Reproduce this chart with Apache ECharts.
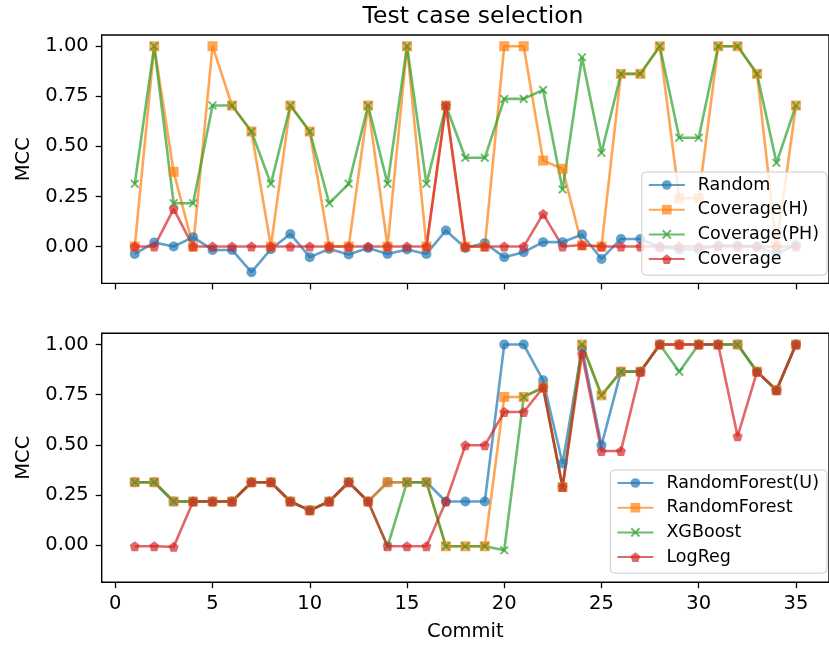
<!DOCTYPE html>
<html>
<head>
<meta charset="utf-8">
<script src="https://cdn.jsdelivr.net/npm/echarts@6/dist/echarts.min.js"></script>
<style>
  html, body { margin: 0; padding: 0; background: #fff; }
  #chart { width: 829px; height: 648px; }
</style>
</head>
<body>
<div id="chart"></div>
<script>
// commits on the x axis
var commits = [1, 2, 3, 4, 5, 6, 7, 8, 9, 10, 11, 12, 13, 14, 15, 16, 17, 18, 19, 20,
  21, 22, 23, 24, 25, 26, 27, 28, 29, 30, 31, 32, 33, 34, 35];
var xTicks = [0, 5, 10, 15, 20, 25, 30, 35];
var yTicks = [0, 0.25, 0.5, 0.75, 1.0];

// top: test case selection
var random = [-0.037, 0.02, 0.0, 0.047, -0.017, -0.017, -0.128, -0.013, 0.063, -0.053,
  -0.012, -0.04, -0.007, -0.037, -0.015, -0.037, 0.08, -0.007, 0.017, -0.053,
  -0.028, 0.022, 0.022, 0.06, -0.062, 0.038, 0.038, -0.003, -0.015, -0.015,
  0.005, 0.005, 0.0, -0.037, 0.008];
var coverageH = [0, 1, 0.373, 0, 1, 0.704, 0.574, 0, 0.704, 0.574,
  0, 0, 0.704, 0, 1, 0, 0.704, 0, 0, 1,
  1, 0.429, 0.388, 0.005, 0, 0.862, 0.862, 1, 0.241, 0.241,
  1, 1, 0.862, 0, 0.704];
var coveragePH = [0.313, 1, 0.216, 0.216, 0.704, 0.704, 0.574, 0.313, 0.704, 0.574,
  0.216, 0.313, 0.704, 0.313, 1, 0.313, 0.704, 0.443, 0.443, 0.737,
  0.737, 0.782, 0.285, 0.945, 0.468, 0.862, 0.862, 1, 0.543, 0.543,
  1, 1, 0.862, 0.418, 0.704];
var coverage = [0, 0, 0.188, 0, 0, 0, 0, 0, 0, 0,
  0, 0, 0, 0, 0, 0, 0.704, 0, 0, 0,
  0, 0.163, 0, 0.008, 0, 0, 0, 0, 0, 0,
  0, 0, 0, 0, 0];

// bottom: classifiers
var rfU = [0.314, 0.314, 0.218, 0.218, 0.218, 0.218, 0.314, 0.314, 0.218, 0.174,
  0.218, 0.314, 0.218, 0.314, 0.314, 0.314, 0.218, 0.218, 0.218, 1.0,
  1.0, 0.822, 0.407, 0.98, 0.498, 0.865, 0.865, 1, 1, 1,
  1, 1, 0.865, 0.772, 1];
var rf = [0.314, 0.314, 0.218, 0.218, 0.218, 0.218, 0.314, 0.314, 0.218, 0.174,
  0.218, 0.314, 0.218, 0.314, 0.314, 0.314, -0.005, -0.005, -0.005, 0.739,
  0.739, 0.786, 0.29, 1, 0.747, 0.865, 0.865, 1, 1, 1,
  1, 1, 0.865, 0.772, 1];
var xgb = [0.314, 0.314, 0.218, 0.218, 0.218, 0.218, 0.314, 0.314, 0.218, 0.174,
  0.218, 0.314, 0.218, -0.005, 0.314, 0.314, -0.005, -0.005, -0.005, -0.025,
  0.739, 0.786, 0.29, 1, 0.747, 0.865, 0.865, 1, 0.865, 1,
  1, 1, 0.865, 0.772, 1];
var logreg = [-0.005, -0.005, -0.008, 0.218, 0.218, 0.218, 0.314, 0.314, 0.218, 0.174,
  0.218, 0.314, 0.218, -0.005, -0.005, -0.005, 0.218, 0.498, 0.498, 0.664,
  0.664, 0.786, 0.29, 0.952, 0.47, 0.47, 0.865, 1, 1, 1,
  1, 0.543, 0.865, 0.772, 1];

var FONT = 'DejaVu Sans';
var xSym = 'path://M0,1.5 L1.5,0 L5,3.5 L8.5,0 L10,1.5 L6.5,5 L10,8.5 L8.5,10 L5,6.5 L1.5,10 L0,8.5 L3.5,5 Z';
var pentSym = 'path://M5,0 L10,3.8 L8.1,10 L1.9,10 L0,3.8 Z';

function pairs(ys) {
  return commits.map(function (c, i) { return [c, ys[i]]; });
}

function line(name, ys, color, symbol, size, idx) {
  return {
    name: name,
    type: 'line',
    xAxisIndex: idx,
    yAxisIndex: idx,
    data: pairs(ys),
    symbol: symbol,
    symbolSize: size,
    showSymbol: true,
    showAllSymbol: true,
    lineStyle: { color: color, width: 2.6, opacity: 0.7 },
    itemStyle: { color: color, opacity: 0.7 },
    emphasis: { disabled: true }
  };
}

function xAx(idx, labels) {
  return {
    type: 'value', gridIndex: idx, min: -0.7, max: 36.7,
    name: labels ? 'Commit' : '',
    nameLocation: 'middle', nameGap: 40,
    nameTextStyle: { fontFamily: FONT, fontSize: 19.5, color: '#000' },
    axisLine: { show: false, onZero: false },
    splitLine: { show: false },
    axisTick: { show: true, length: 6, customValues: xTicks, lineStyle: { color: '#000', width: 1.3 } },
    axisLabel: { show: labels, customValues: xTicks, margin: 12, fontFamily: FONT, fontSize: 19.5, color: '#000' }
  };
}

function yAx(idx) {
  return {
    type: 'value', gridIndex: idx, min: -0.184, max: 1.056,
    name: 'MCC', nameLocation: 'middle', nameGap: 68,
    nameTextStyle: { fontFamily: FONT, fontSize: 19.5, color: '#000' },
    axisLine: { show: false, onZero: false },
    splitLine: { show: false },
    axisTick: { show: true, length: 6, customValues: yTicks, lineStyle: { color: '#000', width: 1.3 } },
    axisLabel: {
      customValues: yTicks, margin: 13, fontFamily: FONT, fontSize: 19.5, color: '#000',
      formatter: function (v) { return v.toFixed(2); }
    }
  };
}

function legend(names, top) {
  return {
    data: names, orient: 'vertical', right: 2, top: top, align: 'left',
    itemWidth: 36, itemHeight: 12, itemGap: 6.7,
    padding: [4, 8, 7, 6],
    borderColor: '#ccc', borderWidth: 1, borderRadius: 4,
    backgroundColor: 'rgba(255,255,255,0.8)',
    textStyle: { fontFamily: FONT, fontSize: 17.5, lineHeight: 18, color: '#000', padding: [0, 0, 0, 8] }
  };
}

var chart = echarts.init(document.getElementById('chart'), null, { renderer: 'canvas' });
chart.setOption({
  animation: false,
  backgroundColor: '#fff',
  title: {
    text: 'Test case selection', left: 468, textAlign: 'center', top: 0,
    textStyle: { fontFamily: FONT, fontSize: 23.5, fontWeight: 'normal', color: '#000' }
  },
  grid: [
    { left: 101.7, top: 35, width: 734.5, height: 248.4, show: true, borderColor: '#000', borderWidth: 1.4 },
    { left: 101.7, top: 333.3, width: 734.5, height: 248.9, show: true, borderColor: '#000', borderWidth: 1.4 }
  ],
  xAxis: [xAx(0, false), xAx(1, true)],
  yAxis: [yAx(0), yAx(1)],
  legend: [
    legend(['Random', 'Coverage(H)', 'Coverage(PH)', 'Coverage'], 172),
    legend(['RandomForest(U)', 'RandomForest', 'XGBoost', 'LogReg'], 470)
  ],
  series: [
    line('Random', random, '#1f77b4', 'circle', 10, 0),
    line('Coverage(H)', coverageH, '#ff7f0e', 'rect', 10, 0),
    line('Coverage(PH)', coveragePH, '#2ca02c', xSym, 9, 0),
    line('Coverage', coverage, '#d62728', pentSym, 10, 0),
    line('RandomForest(U)', rfU, '#1f77b4', 'circle', 10, 1),
    line('RandomForest', rf, '#ff7f0e', 'rect', 10, 1),
    line('XGBoost', xgb, '#2ca02c', xSym, 9, 1),
    line('LogReg', logreg, '#d62728', pentSym, 10, 1)
  ]
});
</script>
</body>
</html>
